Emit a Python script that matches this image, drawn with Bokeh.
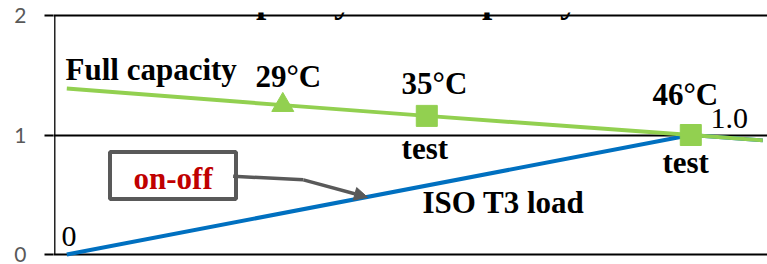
from bokeh.plotting import figure
from bokeh.models import Range1d, FixedTicker, Label, Arrow, NormalHead
from bokeh.embed import file_html
from bokeh.resources import INLINE

# ---- data ----
capacity_temp = [20, 29, 35, 46, 49]
capacity = [1.39, 1.25, 1.16, 1.0, 0.955]
load_temp = [20, 46, 49]
load = [0.0, 1.0, 0.955]
tri_temp = [29]
tri_val = [1.25]
test_temp = [35, 46]
test_val = [1.16, 1.0]
y_ticks = [0, 1, 2]

GREEN = "#92D050"
BLUE = "#0070C0"
GREY = "#595959"
SERIF = "Liberation Serif"

p = figure(width=767, height=264, output_backend="svg", toolbar_location=None,
           x_axis_location=None,
           x_range=Range1d(19.446, 49.196), y_range=Range1d(-0.025, 2.025),
           min_border_left=53, min_border_right=0, min_border_top=12, min_border_bottom=7)
p.outline_line_color = None
p.background_fill_color = "white"
p.border_fill_color = "white"

p.xgrid.visible = False
p.ygrid.ticker = FixedTicker(ticks=y_ticks)
p.ygrid.grid_line_color = "black"
p.ygrid.grid_line_width = 2

ax = p.yaxis[0]
ax.ticker = FixedTicker(ticks=y_ticks)
ax.axis_line_color = None
ax.major_tick_line_color = "black"
ax.major_tick_line_width = 2
ax.major_tick_out = 9
ax.major_tick_in = 0
ax.minor_tick_line_color = None
ax.major_label_text_font = "Lato"
ax.major_label_text_font_size = "21px"
ax.major_label_text_color = GREY
ax.major_label_standoff = 18

# vertical axis line from 0 to 2
p.segment(x0=[19.5], y0=[y_ticks[0]], x1=[19.5], y1=[y_ticks[-1]], line_color="black", line_width=1.3)

# series
p.line(load_temp, load, line_color=BLUE, line_width=4)
p.line(capacity_temp, capacity, line_color=GREEN, line_width=4)
p.scatter(tri_temp, tri_val, marker="triangle", size=22, fill_color=GREEN, line_color=GREEN)
p.scatter(test_temp, test_val, marker="square", size=21, fill_color=GREEN, line_color=GREEN)

# callout box + arrow
p.quad(left=[21.80], right=[27.05], bottom=[0.464], top=[0.858],
       fill_color="white", line_color=GREY, line_width=4)
p.line([26.93, 29.86], [0.655, 0.625], line_color=GREY, line_width=3.5)
p.add_layout(Arrow(x_start=29.86, y_start=0.625, x_end=32.53, y_end=0.479,
                   line_color=GREY, line_width=3.5,
                   end=NormalHead(size=13, fill_color=GREY, line_color=GREY)))

DY = 0.075


def lab(x, y, t, bold=True, size="31px", color="black", align="left"):
    p.add_layout(Label(x=x, y=y + DY, text=t, text_font=SERIF, text_font_size=size,
                       text_font_style="bold" if bold else "normal",
                       text_color=color, text_align=align, text_baseline="alphabetic"))


lab(19.74, 2.06, "Load and capacity: Full capacity at 46°C", size="37px")
lab(19.946, 1.477, "Full capacity")
lab(27.86, 1.414, "29°C")
lab(33.95, 1.356, "35°C")
lab(33.95, 0.812, "test")
lab(44.40, 1.264, "46°C")
lab(46.82, 1.063, "1.0", bold=False, size="30px")
lab(44.82, 0.695, "test")
lab(34.82, 0.360, "ISO T3 load")
lab(19.78, 0.075, "0", bold=False, size="30px")
lab(24.43, 0.561, "on-off", color="#C00000", align="center")

open("out.html", "w").write(file_html(p, INLINE))
